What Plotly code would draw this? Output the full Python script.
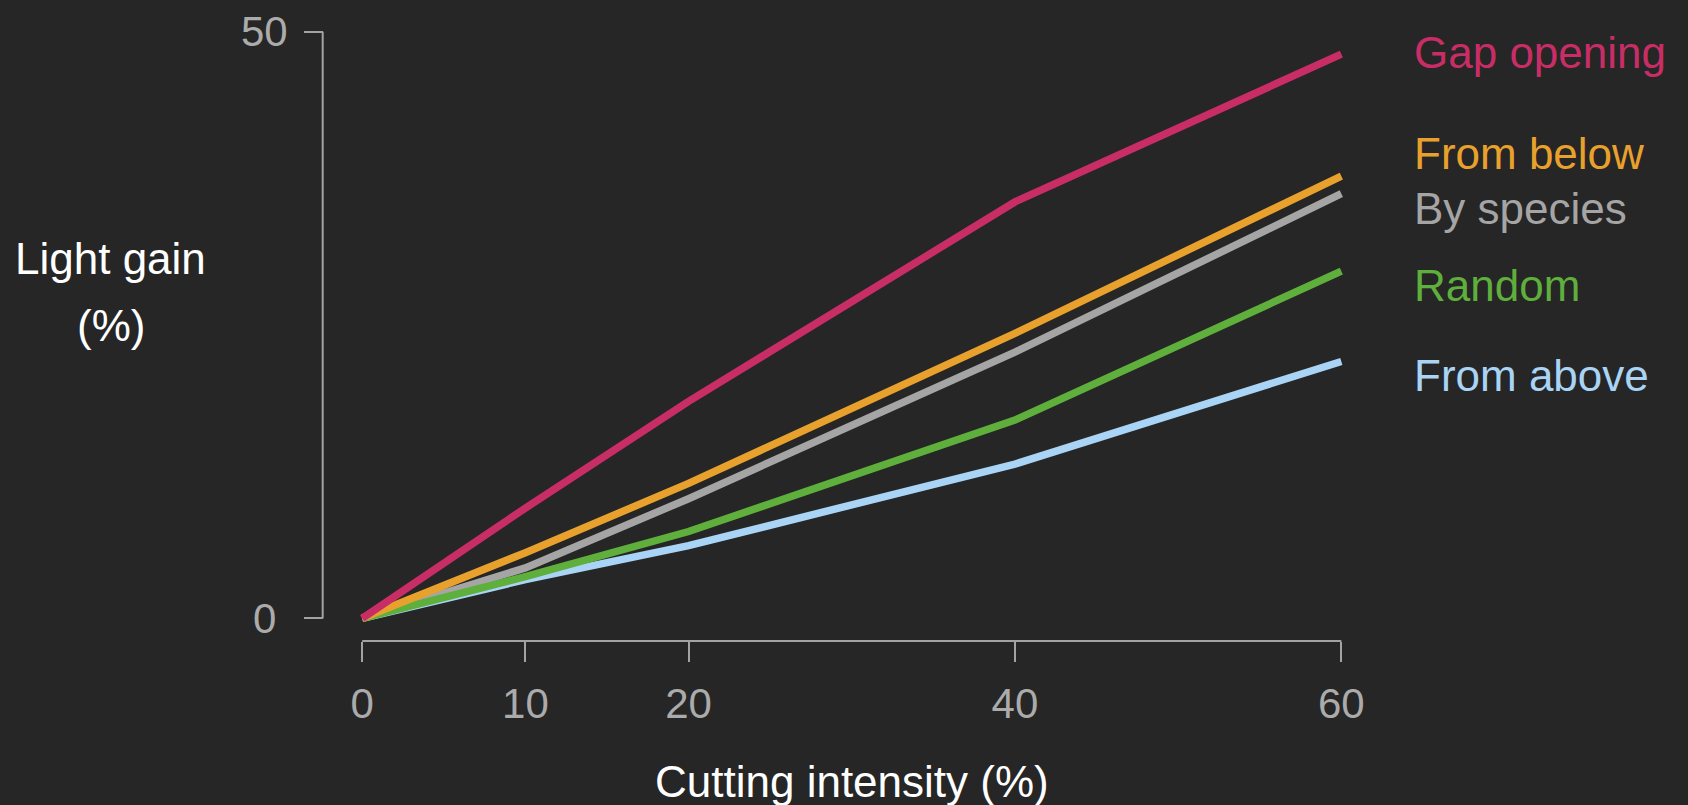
import plotly.graph_objects as go

# ---- data ----
cutting = [0, 10, 20, 40, 60]
gap_opening = [0, 9.4, 18.5, 35.5, 48.1]
from_below = [0, 5.6, 11.5, 24.3, 37.7]
by_species = [0, 4.3, 10.2, 22.7, 36.2]
random_cut = [0, 3.55, 7.4, 16.9, 29.6]
from_above = [0, 3.3, 6.2, 13.15, 21.9]

series_names = ["From above", "By species", "Random", "From below", "Gap opening"]
series_values = [from_above, by_species, random_cut, from_below, gap_opening]
series_colors = ["#A9D4F5", "#A5A5A5", "#5FAF3C", "#E9A12D", "#C92D66"]
label_y = [20.7, 34.9, 28.4, 39.6, 48.2]

x_ticks = [0, 10, 20, 40, 60]
y_ticks = [0, 50]

FONT = "Liberation Sans, Arial, Helvetica, sans-serif"
BG = "#262626"
AXIS_COL = "#A3A3A3"
TICKLAB_COL = "#ABABAB"

W, H = 1688, 805

fig = go.Figure()
for name, vals, col in zip(series_names, series_values, series_colors):
    fig.add_trace(go.Scatter(x=cutting, y=vals, mode="lines", name=name,
                             line=dict(color=col, width=7.5), showlegend=False,
                             hoverinfo="skip"))

x_pos_axis = 1 - 641 / H   # x axis baseline (paper)
y_pos_axis = 322.7 / W     # y axis line (paper)

fig.update_layout(
    width=W, height=H, autosize=False,
    paper_bgcolor=BG, plot_bgcolor=BG,
    margin=dict(l=0, r=0, t=0, b=0, pad=0),
    font=dict(family=FONT, color=TICKLAB_COL),
    xaxis=dict(domain=[0.20974, 0.79947], range=[-0.5, 60.5],
               anchor="free", position=x_pos_axis, automargin=False,
               showgrid=False, zeroline=False, showline=False,
               tickmode="array", tickvals=x_ticks, ticktext=[str(v) for v in x_ticks],
               ticks="outside", ticklen=20, tickwidth=2, tickcolor=AXIS_COL,
               tickfont=dict(size=42, color=TICKLAB_COL, family=FONT),
               ticklabelstandoff=6),
    yaxis=dict(domain=[0.22460, 0.96770], range=[-0.5, 50.5],
               anchor="free", position=y_pos_axis, automargin=False,
               showgrid=False, zeroline=False, showline=False,
               tickmode="array", tickvals=y_ticks,
               ticks="outside", ticklen=19, tickwidth=2, tickcolor=AXIS_COL,
               showticklabels=False),
)

# axis lines spanning first to last tick (base-R style)
fig.add_shape(type="line", xref="x", yref="paper", x0=x_ticks[0], x1=x_ticks[-1],
              y0=x_pos_axis, y1=x_pos_axis, line=dict(color=AXIS_COL, width=2))
fig.add_shape(type="line", xref="paper", yref="y", x0=y_pos_axis, x1=y_pos_axis,
              y0=y_ticks[0], y1=y_ticks[-1], line=dict(color=AXIS_COL, width=2))

# y tick labels (centred like the reference)
for v in y_ticks:
    fig.add_annotation(x=264 / W, xref="paper", y=v, yref="y", text=str(v),
                       showarrow=False, xanchor="center", yanchor="middle",
                       font=dict(size=42, color=TICKLAB_COL, family=FONT))

# axis titles
fig.add_annotation(x=30, xref="x", y=1 - 781 / H, yref="paper",
                   text="Cutting intensity (%)", showarrow=False,
                   xanchor="center", yanchor="middle",
                   font=dict(size=44, color="#FFFFFF", family=FONT))
fig.add_annotation(x=110.8 / W, xref="paper", y=1 - 259 / H, yref="paper",
                   text="Light gain", showarrow=False,
                   xanchor="center", yanchor="middle",
                   font=dict(size=44, color="#FFFFFF", family=FONT))
fig.add_annotation(x=110.8 / W, xref="paper", y=1 - 325 / H, yref="paper",
                   text="(%)", showarrow=False,
                   xanchor="center", yanchor="middle",
                   font=dict(size=44, color="#FFFFFF", family=FONT))

# direct labels
for name, col, ly in zip(series_names, series_colors, label_y):
    fig.add_annotation(x=1412 / W, xref="paper", y=ly, yref="y", text=name,
                       showarrow=False, xanchor="left", yanchor="middle",
                       font=dict(size=44, color=col, family=FONT))

fig.write_html(
    "out.html",
    config={"displayModeBar": False, "responsive": False},
    post_script="document.body.style.margin='0';document.body.style.background='%s';"
                "document.documentElement.style.background='%s';document.body.style.overflow='hidden';" % (BG, BG),
)
